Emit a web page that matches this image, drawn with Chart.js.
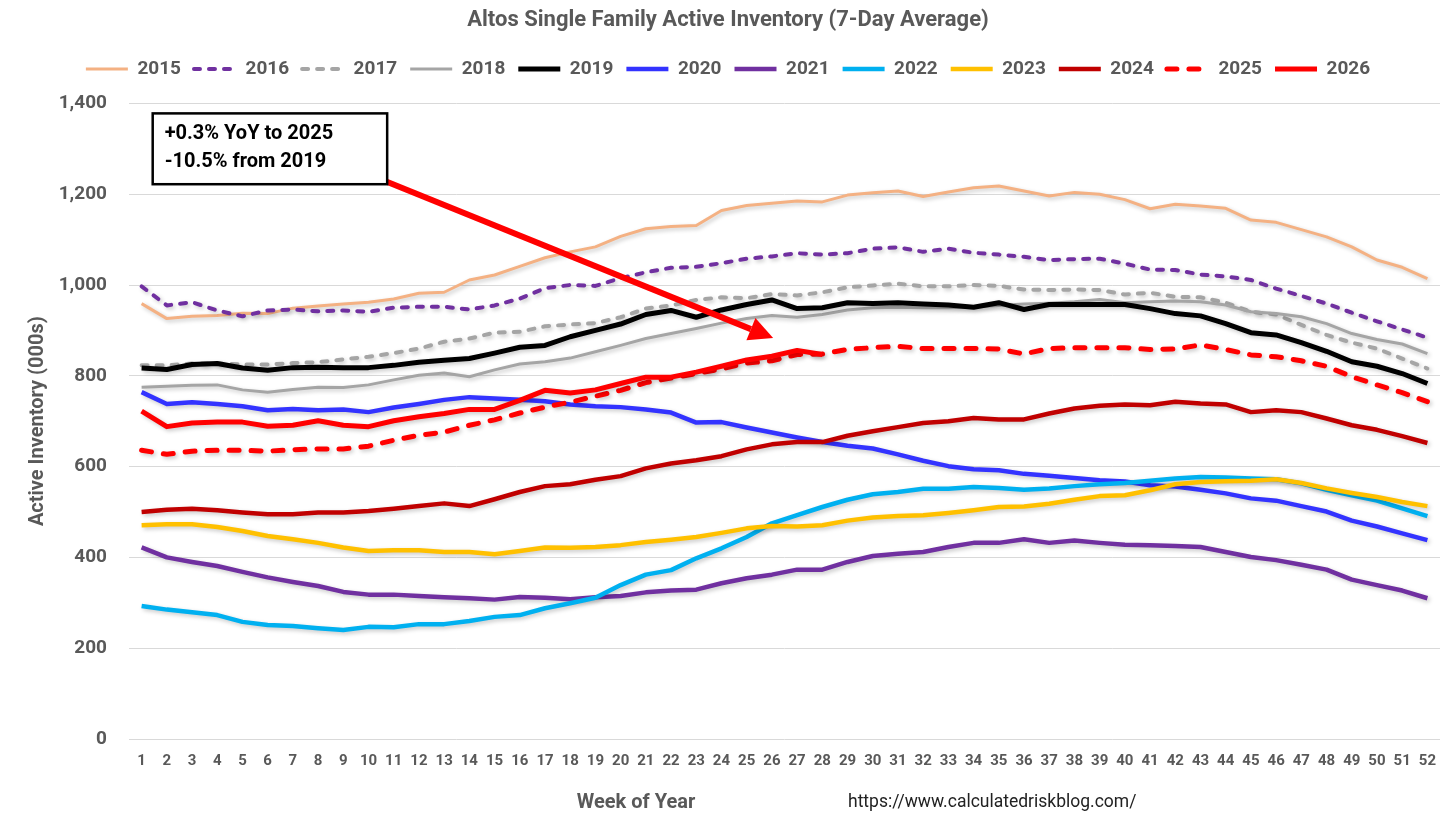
<!DOCTYPE html>
<html>
<head>
<meta charset="utf-8">
<title>Altos Single Family Active Inventory</title>
<script src="https://cdn.jsdelivr.net/npm/chart.js@4.4.1/dist/chart.umd.min.js"></script>
<style>
  html, body { margin: 0; padding: 0; background: #fff; }
  #wrap { width: 1456px; height: 821px; }
</style>
</head>
<body>
<div id="wrap"><canvas id="grafico" width="1456" height="821"></canvas></div>
<script>
// Semanas (categorias)
const semanas = ["1","2","3","4","5","6","7","8","9","10","11","12","13","14","15","16","17","18","19","20",
  "21","22","23","24","25","26","27","28","29","30","31","32","33","34","35","36","37","38","39","40",
  "41","42","43","44","45","46","47","48","49","50","51","52"];

// Valores (milhares)
const a2015 = [959,926,931,933,938,937,949,954,958,962,969,982,984,1011,1022,1041,1060,1073,1084,1107,
  1124,1129,1131,1164,1175,1180,1185,1183,1198,1203,1207,1195,1205,1214,1218,1207,1196,1204,1200,1188,
  1168,1178,1174,1169,1143,1138,1122,1106,1084,1055,1039,1014];
const a2016 = [997,955,962,944,931,944,946,942,944,941,950,952,952,946,955,970,993,1000,998,1015,
  1028,1038,1040,1048,1058,1063,1070,1067,1070,1080,1083,1073,1080,1071,1067,1062,1055,1057,1058,1047,
  1034,1033,1023,1019,1011,992,976,959,939,920,902,884];
const a2017 = [823,823,827,827,825,825,828,830,836,842,850,860,875,882,895,897,909,913,916,929,
  948,955,967,973,971,980,977,984,995,999,1003,997,997,1000,998,990,989,990,989,979,
  983,974,973,961,941,935,912,890,873,860,838,816];
const a2018 = [775,777,779,780,769,764,770,775,774,780,791,801,806,798,813,826,831,839,853,867,
  882,893,904,916,926,933,929,935,945,950,951,950,950,952,955,958,960,963,968,961,
  963,965,963,956,941,937,930,915,893,880,870,849];
const a2019 = [817,814,825,827,817,812,818,819,818,818,823,830,834,838,850,863,867,886,900,914,
  935,944,929,945,957,967,948,950,961,959,961,958,956,951,961,946,957,957,957,957,
  948,937,932,915,895,890,873,854,831,821,805,783];
const a2020 = [764,738,742,738,733,724,727,724,726,720,730,738,747,753,750,747,744,737,733,731,
  726,719,697,698,686,675,664,654,646,640,627,613,601,594,592,584,580,575,570,567,
  559,556,549,541,530,525,513,501,481,468,453,438];
const a2021 = [422,400,390,381,368,356,346,337,324,318,318,315,312,310,307,313,311,308,312,315,
  323,327,329,343,354,362,373,373,390,403,408,412,423,432,432,440,432,437,432,428,
  427,425,423,412,401,394,384,373,351,339,327,310];
const a2022 = [293,285,279,273,258,251,249,244,240,247,246,253,253,260,269,273,288,299,311,339,
  362,372,398,420,445,475,493,511,527,539,544,551,551,555,553,549,552,557,561,564,
  569,574,577,576,574,572,563,549,537,525,508,491];
const a2023 = [471,473,473,467,458,447,440,432,422,414,416,416,412,412,407,414,422,421,423,427,
  434,439,445,454,464,469,468,471,481,488,491,493,498,504,511,512,518,527,535,537,
  548,561,566,568,569,572,564,552,542,533,522,513];
const a2024 = [500,505,507,504,499,495,495,499,499,502,507,513,519,513,528,544,557,561,571,579,
  596,607,614,623,638,649,654,654,668,678,687,696,700,707,704,704,717,728,734,737,
  735,743,739,737,720,724,720,706,691,681,667,652];
const a2025 = [636,627,634,636,636,634,637,639,639,645,658,669,676,691,703,718,731,742,755,768,
  785,795,805,815,828,833,847,848,858,862,865,860,860,860,859,848,860,862,862,862,
  858,859,868,858,846,842,833,821,798,780,763,743];
const a2026 = [722,688,696,698,698,689,691,701,691,688,701,710,717,726,726,746,768,762,769,783,
  797,797,808,821,835,843,856,847];

// Séries: rótulo, valores, cor, espessura, tracejado
const series = [
  ["2015", a2015, "#F4B183", 3, []],
  ["2016", a2016, "#7030A0", 4, [6, 9]],
  ["2017", a2017, "#A5A5A5", 4, [6, 9]],
  ["2018", a2018, "#A5A5A5", 3, []],
  ["2019", a2019, "#000000", 5, []],
  ["2020", a2020, "#3333FF", 4.5, []],
  ["2021", a2021, "#7030A0", 4.5, []],
  ["2022", a2022, "#00B0F0", 4.5, []],
  ["2023", a2023, "#FFC000", 4.5, []],
  ["2024", a2024, "#C00000", 4.5, []],
  ["2025", a2025, "#FF0000", 5, [10, 12]],
  ["2026", a2026, "#FF0000", 5, []]
];

const CINZA = "#595959";
const FONTE = "Roboto, 'Open Sans', 'DejaVu Sans', sans-serif";
Chart.defaults.font.family = FONTE;

// Anotação (coordenadas em semana / valor)
const caixa = { semIni: 1.44, semFim: 10.74, topo: 1378, base: 1222 };
const seta = { semIni: 10.7, valIni: 1228, semFim: 26.05, valFim: 883 };

// Sombra leve nas linhas, como no Excel
const sombra = {
  id: "sombra",
  beforeDatasetDraw(chart) {
    const ctx = chart.ctx;
    ctx.save();
    ctx.shadowColor = "rgba(0,0,0,0.22)";
    ctx.shadowBlur = 4;
    ctx.shadowOffsetX = 2;
    ctx.shadowOffsetY = 2;
  },
  afterDatasetDraw(chart) {
    chart.ctx.restore();
  }
};

// Espaço extra abaixo da legenda
const espacoLegenda = {
  id: "espacoLegenda",
  beforeInit(chart) {
    const fitOriginal = chart.legend.fit;
    chart.legend.fit = function () {
      fitOriginal.call(this);
      this.height += 15;
    };
  }
};

// Caixa de texto, seta e rótulos do rodapé
const notas = {
  id: "notas",
  afterDraw(chart) {
    const { ctx, scales: { x, y } } = chart;
    ctx.save();

    const x1 = x.getPixelForValue(caixa.semIni - 1);
    const x2 = x.getPixelForValue(caixa.semFim - 1);
    const y1 = y.getPixelForValue(caixa.topo);
    const y2 = y.getPixelForValue(caixa.base);

    // seta
    const sx = x.getPixelForValue(seta.semIni - 1);
    const sy = y.getPixelForValue(seta.valIni);
    const ex = x.getPixelForValue(seta.semFim - 1);
    const ey = y.getPixelForValue(seta.valFim);
    const ang = Math.atan2(ey - sy, ex - sx);
    const compCabeca = 24, largCabeca = 12;
    const bxp = ex - compCabeca * Math.cos(ang);
    const byp = ey - compCabeca * Math.sin(ang);
    ctx.strokeStyle = "#FF0000";
    ctx.fillStyle = "#FF0000";
    ctx.lineWidth = 6;
    ctx.beginPath();
    ctx.moveTo(sx, sy);
    ctx.lineTo(bxp, byp);
    ctx.stroke();
    ctx.beginPath();
    ctx.moveTo(ex, ey);
    ctx.lineTo(bxp + largCabeca * Math.sin(ang), byp - largCabeca * Math.cos(ang));
    ctx.lineTo(bxp - largCabeca * Math.sin(ang), byp + largCabeca * Math.cos(ang));
    ctx.closePath();
    ctx.fill();

    // caixa
    ctx.fillStyle = "#FFFFFF";
    ctx.fillRect(x1, y1, x2 - x1, y2 - y1);
    ctx.strokeStyle = "#000000";
    ctx.lineWidth = 2.5;
    ctx.strokeRect(x1, y1, x2 - x1, y2 - y1);
    ctx.fillStyle = "#000000";
    ctx.font = "bold 20px " + FONTE;
    ctx.textBaseline = "middle";
    ctx.textAlign = "left";
    ctx.fillText("+0.3% YoY to 2025", x1 + 12, y1 + 21);
    ctx.fillText("-10.5% from 2019", x1 + 12, y1 + 49);

    // rodapé
    ctx.fillStyle = CINZA;
    ctx.font = "bold 20px " + FONTE;
    ctx.textAlign = "center";
    ctx.fillText("Week of Year", 636, 803);
    ctx.fillStyle = "#222222";
    ctx.font = "17.5px " + FONTE;
    ctx.textAlign = "left";
    ctx.fillText("https://www.calculatedriskblog.com/", 848, 803);

    ctx.restore();
  }
};

const datasets = series.map(([rotulo, valores, cor, esp, traco], i) => ({
  label: rotulo,
  data: valores,
  borderColor: cor,
  backgroundColor: cor,
  borderWidth: esp,
  borderDash: traco,
  borderCapStyle: traco.length ? "round" : "butt",
  borderJoinStyle: "round",
  pointRadius: 0,
  pointHoverRadius: 0,
  tension: 0,
  fill: false,
  order: series.length - i
}));

// Itens da legenda com o mesmo traço das linhas
const itensLegenda = chart => chart.data.datasets.map((ds, i) => ({
  text: ds.label,
  fillStyle: ds.borderColor,
  strokeStyle: ds.borderColor,
  lineWidth: ds.borderWidth,
  lineDash: ds.borderDash,
  lineCap: ds.borderDash.length ? "round" : "butt",
  pointStyle: "line",
  fontColor: CINZA,
  hidden: false,
  datasetIndex: i
}));

new Chart(document.getElementById("grafico"), {
  type: "line",
  data: { labels: semanas, datasets },
  options: {
    responsive: false,
    animation: false,
    devicePixelRatio: 1,
    layout: { padding: { left: 16, right: 16, top: 0, bottom: 0 } },
    plugins: {
      title: {
        display: true,
        text: "Altos Single Family Active Inventory (7-Day Average)",
        color: CINZA,
        font: { size: 22, weight: "bold" },
        padding: { top: 7, bottom: 13 }
      },
      legend: {
        position: "top",
        labels: {
          usePointStyle: true,
          pointStyle: "line",
          pointStyleWidth: 42,
          boxHeight: 19,
          padding: 13,
          color: CINZA,
          font: { size: 19, weight: "bold" },
          generateLabels: itensLegenda
        }
      },
      tooltip: { enabled: false }
    },
    scales: {
      x: {
        type: "category",
        offset: true,
        grid: { display: false, drawTicks: false },
        border: { display: false },
        ticks: {
          color: CINZA,
          font: { size: 15, weight: "bold" },
          maxRotation: 0,
          autoSkip: false,
          padding: 13
        },
        afterFit(s) { s.height = 82; }
      },
      y: {
        min: 0,
        max: 1400,
        grid: { color: "#D9D9D9", lineWidth: 1, drawTicks: false },
        border: { display: false },
        ticks: {
          stepSize: 200,
          color: CINZA,
          font: { size: 19, weight: "bold" },
          padding: 22,
          callback: v => v.toLocaleString("en-US")
        },
        title: {
          display: true,
          text: "Active Inventory (000s)",
          color: CINZA,
          font: { size: 20, weight: "bold" },
          padding: { top: 10, bottom: 0 }
        },
        afterFit(s) { s.width = 113; }
      }
    }
  },
  plugins: [sombra, espacoLegenda, notas]
});
</script>
</body>
</html>
